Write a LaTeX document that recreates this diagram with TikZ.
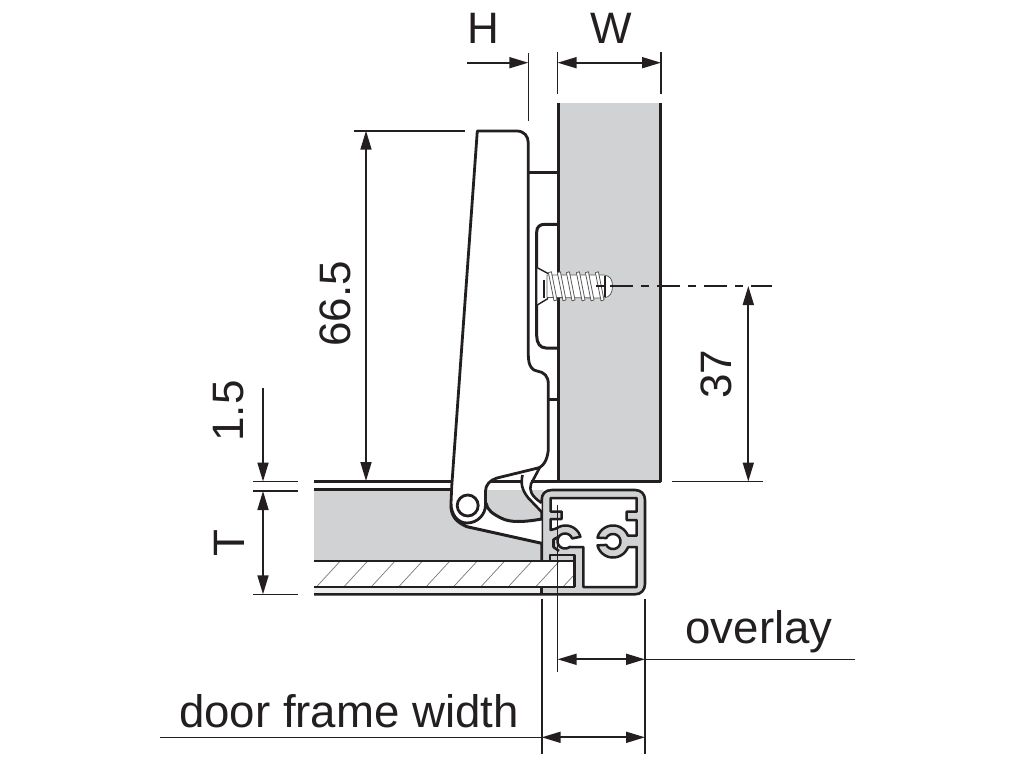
\documentclass[tikz,border=0pt]{standalone}
\usepackage{fontspec}
\setmainfont{Liberation Sans}
\usetikzlibrary{arrows.meta}
\definecolor{ink}{HTML}{231F20}
\definecolor{panelgrey}{HTML}{D1D2D4}
\definecolor{stripgrey}{HTML}{EDEDEE}
\definecolor{screwline}{HTML}{58595B}
\tikzset{
  thickln/.style={draw=ink,line width=3pt,line join=round},
  medln/.style={draw=ink,line width=2.6pt,line join=round},
  thinln/.style={draw=ink,line width=1.6pt},
  hatchln/.style={draw=ink!60,line width=0.7pt},
  dimln/.style={draw=ink,line width=1.7pt,{Triangle[length=19pt,width=11pt]}-{Triangle[length=19pt,width=11pt]}},
  dimend/.style={draw=ink,line width=1.7pt,-{Triangle[length=19pt,width=11pt]}},
  dimlabel/.style={text=ink,inner sep=0pt,font=\fontsize{44}{44}\selectfont},
  wordlabel/.style={text=ink,inner sep=0pt,anchor=base,font=\fontsize{45.6}{46}\selectfont},
  thread/.style={fill=white,draw=screwline,line width=0.8pt,line join=round}
}
\begin{document}
\begin{tikzpicture}[x=1pt,y=-1pt]
\useasboundingbox (0,0) rectangle (1024,768);
% door panel
\fill[panelgrey] (314,490) rectangle (543,561);
\fill[stripgrey] (314,587) rectangle (543,594);
\draw[thickln] (314,481.7) -- (452,481.7);
\draw[medln] (314,489.6) -- (452,489.6);
% frame profile
\path[fill=panelgrey] (541.7,500) .. controls (541.7,494) and (545,490) .. (552,490)
  -- (635,490) .. controls (641,490) and (645,494) .. (645,500)
  -- (645,584) .. controls (645,590) and (641,594.3) .. (635,594.3)
  -- (541.7,594.3) -- cycle;
\draw[medln] (541.7,561) -- (541.7,500) .. controls (541.7,494) and (545,490) .. (552,490)
  -- (635,490) .. controls (641,490) and (645,494) .. (645,500)
  -- (645,584) .. controls (645,590) and (641,594.3) .. (635,594.3)
  -- (314,594.3);
\draw[medln] (541.7,587) -- (541.7,594.3);
% frame interior
\path[fill=white,draw=ink,line width=2.5pt,line join=round]
  (550.7,498) -- (636.7,498) -- (636.7,511.7) -- (626.7,511.7) -- (626.7,520) -- (636.7,520)
  -- (636.7,535.7) -- (628.3,535.7)
  -- plot[domain=-21:-166,samples=30] ({613+16*cos(\x)},{541.5+16*sin(\x)})
  -- plot[domain=-153:153,samples=40] ({613+7.5*cos(\x)},{541.5+7.5*sin(\x)})
  -- plot[domain=166:21,samples=30] ({613+16*cos(\x)},{541.5+16*sin(\x)})
  -- (636.7,547) -- (636.7,587) -- (583.3,587) -- (583.3,547) -- (570,547)
  -- plot[domain=50:340,samples=40] ({565+7.5*cos(\x)},{541+7.5*sin(\x)})
  -- plot[domain=-16:-126,samples=24] ({565.5+15.5*cos(\x)},{541+15.5*sin(\x)})
  -- (550.7,530) -- (550.7,519) -- (561.7,519) -- (561.7,511.7) -- (550.7,511.7) -- cycle;
\draw[medln] (559,536.5) -- (553.5,539.5) -- (553.5,547) -- (559,551);
% glass
\fill[white] (314,561) rectangle (574.5,587);
\begin{scope}
\clip (314,561) rectangle (574.5,587);
\foreach \k in {0,...,9} \draw[hatchln] ({316.3+27.4*\k},587) -- ({340.3+27.4*\k},561);
\end{scope}
\draw[medln] (314,561) -- (574.5,561);
\draw[medln] (314,587) -- (574.5,587);
\draw[medln] (550,561) -- (550,555) -- (574.5,555) -- (574.5,587);
% hinge cup
\path[fill=white] (451,503) .. controls (451,516) and (456,522) .. (467,526.7)
  -- (541.7,543.3) -- (541.7,519) .. controls (525,522) and (510,523) .. (500,517)
  .. controls (492,512) and (486,510) .. (486,503) -- cycle;
\draw[thickln] (451,505) .. controls (451,516) and (456,522) .. (467,526.7) -- (541.7,543.3);
\draw[thickln] (486,503) .. controls (487,510) and (493,514) .. (501,518)
  .. controls (510,523) and (525,522) .. (541.7,519);
% arm
\path[fill=white] (521.7,475) -- (521.7,486.7) -- (528.3,498) -- (541.7,512) -- (541.7,503)
  -- (535,498) -- (530,488) -- (540,468) -- cycle;
\draw[medln] (522.5,475) .. controls (520.5,484) and (522,490) .. (528.3,498) -- (541.7,512);
\draw[medln] (540,467) -- (531,484) .. controls (529,490) and (531,496) .. (541.7,503);
% hinge body
\path[fill=white,draw=ink,line width=2.8pt,line join=round]
  (477.3,131) -- (516.7,131) .. controls (524,131) and (528.3,136) .. (528.3,143)
  -- (528.3,355) .. controls (528.3,367) and (533,370.5) .. (537,371)
  .. controls (544,372) and (548.3,376) .. (548.3,384)
  -- (548.3,448) .. controls (548.3,456) and (545,466) .. (538,468)
  -- (497,478) .. controls (490,480) and (485.5,485) .. (485.5,491)
  -- (485.5,505) .. controls (485.5,514) and (478,523) .. (467,523)
  .. controls (458,523) and (451,515) .. (451,503)
  -- (451.7,486.7) -- cycle;
\draw[thickln] (490,481.7) -- (522,481.7);
\draw[line width=2.8pt,draw=ink,fill=white] (467.7,505.5) circle[radius=10.5];
% cabinet side
\fill[panelgrey] (558.3,102.7) rectangle (660.7,481.5);
\draw[thickln] (558.3,102.7) -- (558.3,481.7) -- (660.7,481.7) -- (660.7,102.7);
\draw[thickln] (531,481.7) -- (558.3,481.7);
% mounting plate
\draw[thickln] (528.3,172.7) -- (558.3,172.7);
\draw[thickln] (558.3,224.3) -- (545,224.3) .. controls (539.5,224.3) and (536.7,227) .. (536.7,232)
  -- (536.7,336) .. controls (536.7,343) and (540,348) .. (546,348) -- (558.3,348);
\draw[thickln] (548.3,399) -- (558.3,399);
% screw
\path[fill=white] (537.3,267.7) -- (550,273) -- (550,299) -- (537.3,305) -- cycle;
\path[fill=white,draw=screwline,line width=0.8pt,line join=round]
  (547,275) -- (604,275) .. controls (610,276) and (612.5,279) .. (612.5,286)
  .. controls (612.5,293) and (610,297) .. (604,298) -- (547,297.5) -- cycle;
\draw[draw=ink,line width=1.4pt] (537.3,267.7) -- (548,273.5);
\draw[draw=ink,line width=1.4pt] (537.3,305) -- (548,298.5);
\foreach \t in {550,559,568,578,587,597}
  \path[thread] (\t-1.6,272.6) -- (\t+1.4,271.8) -- (\t+7,300) -- (\t+4,300.8) -- cycle;
\draw[draw=ink,line width=2.2pt] (544,280) -- (544,298);
\draw[draw=ink,line width=2pt] (605,276) -- (605,297);
% centre line
\draw[draw=ink,line width=2pt] (596,286) -- (605,286);
\draw[draw=ink,line width=2pt,dash pattern=on 23pt off 8pt on 8pt off 8pt] (610,286) -- (772,286);
% dimension lines
\draw[thinln] (528.3,53) -- (528.3,121);
\draw[thinln] (557.6,52) -- (557.6,94);
\draw[thinln] (661,52) -- (661,94);
\draw[dimend] (467,62.7) -- (528.3,62.7);
\draw[dimln] (557.6,62.7) -- (661,62.7);
\draw[thinln] (354,130.7) -- (464.7,130.7);
\draw[dimln] (366,130.7) -- (366,481);
\draw[thinln] (253,481.5) -- (298,481.5);
\draw[thinln] (253,491) -- (298,491);
\draw[thinln] (253,594.3) -- (298,594.3);
\draw[dimend] (263,388) -- (263,481.5);
\draw[dimln] (263,491) -- (263,594.3);
\draw[thinln] (672,481.5) -- (763,481.5);
\draw[dimln] (748.3,286) -- (748.3,481.5);
\draw[thinln] (557.6,505) -- (557.6,671.7);
\draw[thinln] (541.7,599.3) -- (541.7,754.3);
\draw[thinln] (645,599.3) -- (645,754.3);
\draw[thinln] (645,659.3) -- (855,659.3);
\draw[dimln] (557.6,659.3) -- (645,659.3);
\draw[thinln] (160,737.3) -- (541.7,737.3);
\draw[dimln] (541.7,737.3) -- (645,737.3);
% labels
\node[dimlabel] (labelH) at (483,28) {H};
\node[dimlabel] (labelW) at (611,28) {W};
\node[dimlabel,rotate=90] (labelHeight) at (335,304) {66.5};
\node[dimlabel,rotate=90] (labelGap) at (229,411) {1.5};
\node[dimlabel,rotate=90] (labelT) at (229,543) {T};
\node[dimlabel,rotate=90] (labelCentre) at (716,374) {37};
\node[wordlabel] (labelOverlay) at (759,643) {overlay};
\node[wordlabel] (labelFrame) at (349,727) {door frame width};
\end{tikzpicture}
\end{document}
